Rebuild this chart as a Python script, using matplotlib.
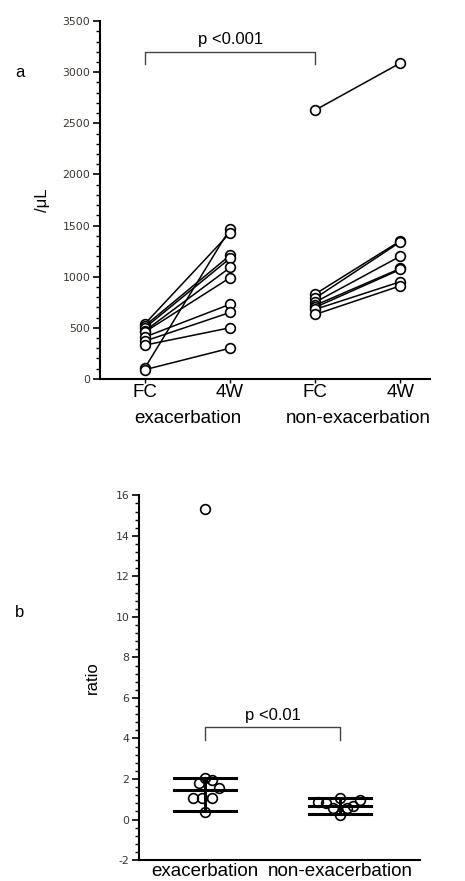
import matplotlib
matplotlib.use('Agg')
import matplotlib.pyplot as plt
from matplotlib.ticker import MultipleLocator

plt.rcParams['font.family'] = ['Liberation Sans', 'DejaVu Sans']
plt.rcParams['axes.unicode_minus'] = False

# panel a: paired counts (/uL)
exac_fc = [110, 90, 540, 520, 500, 470, 460, 410, 370, 330]
exac_4w = [1470, 300, 1430, 1210, 1180, 1090, 990, 730, 650, 500]
nonexac_fc = [2630, 830, 790, 750, 720, 700, 680, 630]
nonexac_4w = [3090, 1350, 1340, 1200, 1080, 1070, 950, 910]
time_labels = ['FC', '4W', 'FC', '4W']
groups = ['exacerbation', 'non-exacerbation']

# panel b: ratio (4W / FC)
exac_ratio = [15.3, 2.03, 1.95, 1.57, 1.79, 1.08, 1.05, 1.05, 0.39]
exac_jitter = [0, 0, 7, 14, -6, -12, -3, 7, 0]
nonexac_ratio = [0.85, 0.82, 0.56, 1.05, 0.23, 0.56, 0.69, 0.97]
nonexac_jitter = [-22, -14, -7, 0, 0, 7, 13, 20]
# center, lower, upper summary lines
exac_summary = [1.46, 0.44, 2.03]
nonexac_summary = [0.69, 0.26, 1.08]

tick_color = '#3a3430'
tick_font = {'family': 'DejaVu Sans', 'size': 7.8}
fig = plt.figure(figsize=(4.65, 8.81), dpi=100)


def style_y(axis):
    axis.tick_params(axis='y', which='major', length=5, width=1.2,
                     labelcolor=tick_color, pad=2)
    axis.tick_params(axis='y', which='minor', length=3, width=1)
    for lab in axis.get_yticklabels():
        lab.set_fontfamily(tick_font['family'])
        lab.set_fontsize(tick_font['size'])
    for s in ['top', 'right']:
        axis.spines[s].set_visible(False)
    for s in ['left', 'bottom']:
        axis.spines[s].set_linewidth(1.5)


# ---------------- panel a
ax = fig.add_axes([0.215, 0.570, 0.71, 0.406])
for a, b in zip(exac_fc, exac_4w):
    ax.plot([1, 2], [a, b], color='black', lw=1.1, marker='o', ms=7,
            mfc='white', mec='black', mew=1.2, zorder=3)
for a, b in zip(nonexac_fc, nonexac_4w):
    ax.plot([3, 4], [a, b], color='black', lw=1.1, marker='o', ms=7,
            mfc='white', mec='black', mew=1.2, zorder=3)
ax.set_ylim(0, 3500)
ax.set_xlim(0.47, 4.35)
ax.yaxis.set_major_locator(MultipleLocator(500))
ax.yaxis.set_minor_locator(MultipleLocator(100))
ax.set_xticks([1, 2, 3, 4])
ax.set_xticklabels(time_labels, fontsize=13.5)
ax.tick_params(axis='x', length=3, width=1, pad=1)
style_y(ax)
ax.set_ylabel('/μL', fontsize=12, labelpad=9)
ax.text(1.5, -385, groups[0], ha='center', va='center', fontsize=13.5,
        clip_on=False)
ax.text(3.5, -385, groups[1], ha='center', va='center', fontsize=13.5,
        clip_on=False)
ax.plot([1, 1, 3, 3], [3080, 3200, 3200, 3080], color='#444444', lw=1)
ax.text(2.0, 3250, 'p <0.001', ha='center', va='bottom', fontsize=12)
fig.text(0.032, 0.918, 'a', fontsize=12, va='center')

# ---------------- panel b
bx = fig.add_axes([0.299, 0.0238, 0.604, 0.414])
px_per_x = 135.0
for pos, vals, jit, summ in [(1, exac_ratio, exac_jitter, exac_summary),
                             (2, nonexac_ratio, nonexac_jitter, nonexac_summary)]:
    xs = [pos + j / px_per_x for j in jit]
    bx.plot(xs, vals, linestyle='none', marker='o', ms=7, mfc='none',
            mec='black', mew=1.2, zorder=3)
    for v in summ:
        bx.plot([pos - 0.23, pos + 0.23], [v, v], color='black', lw=2.2,
                zorder=2)
    bx.plot([pos, pos], [summ[1], summ[2]], color='black', lw=2.2, zorder=2)
bx.set_ylim(-2, 16)
bx.set_xlim(0.51, 2.59)
bx.yaxis.set_major_locator(MultipleLocator(2))
bx.yaxis.set_minor_locator(MultipleLocator(0.4))
bx.set_xticks([1, 2])
bx.set_xticklabels(groups, fontsize=13.5)
bx.tick_params(axis='x', length=0, pad=2)
style_y(bx)
bx.set_ylabel('ratio', fontsize=12, labelpad=11)
bx.plot([1, 1, 2, 2], [3.9, 4.56, 4.56, 3.9], color='#444444', lw=1)
bx.text(1.5, 4.75, 'p <0.01', ha='center', va='bottom', fontsize=12)
fig.text(0.032, 0.305, 'b', fontsize=12, va='center')

fig.savefig('out.png', dpi=100)
